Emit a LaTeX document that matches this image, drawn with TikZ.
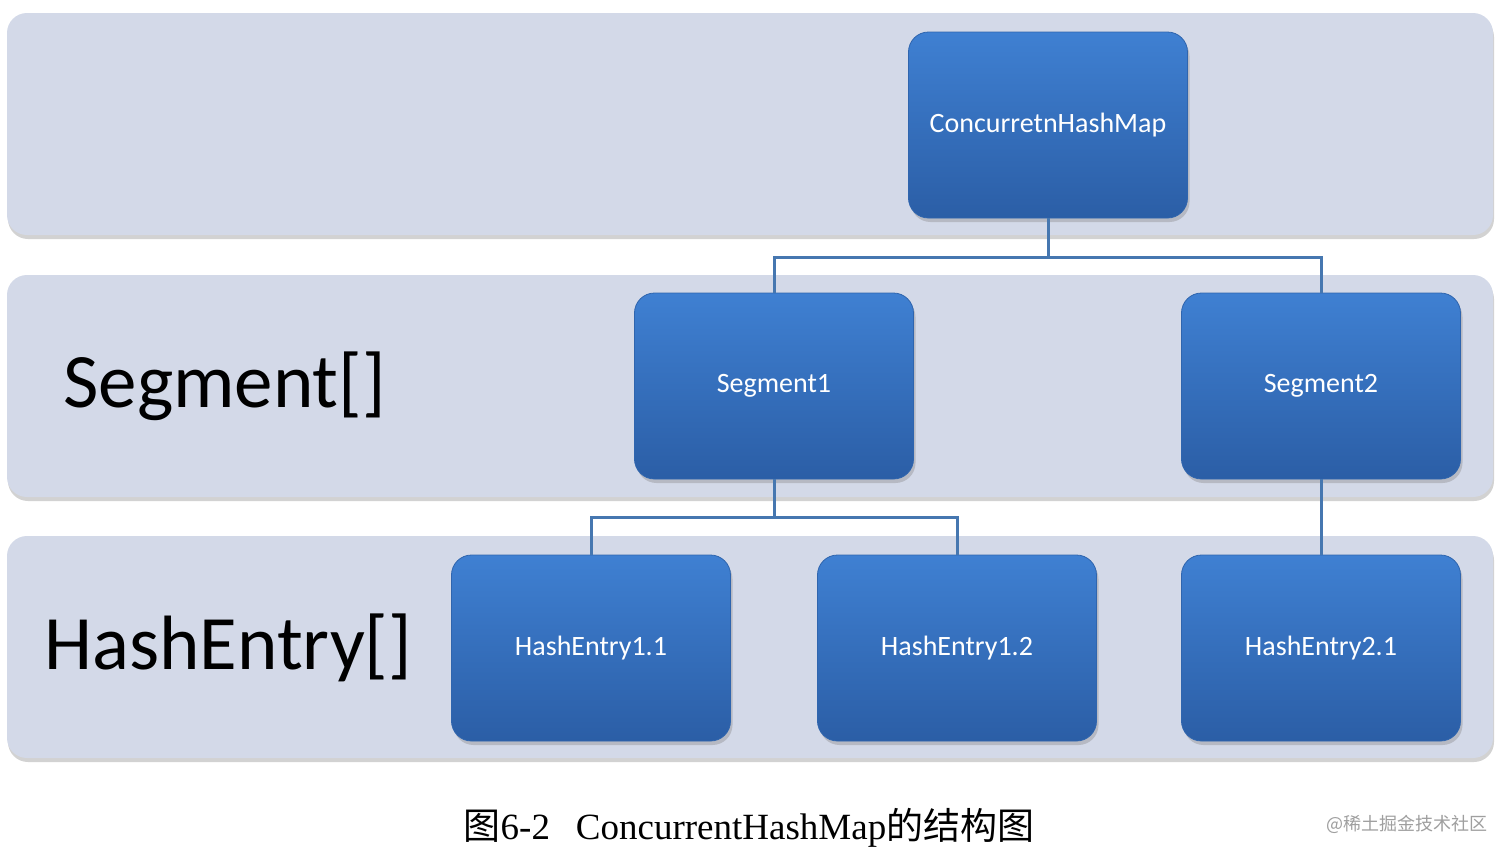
\documentclass[tikz,border=0pt]{standalone}
\usepackage{fontspec}
\setmainfont{Liberation Serif}
\newfontfamily\calib{Carlito}
\newfontfamily\cjk{Noto Sans CJK SC}
\usetikzlibrary{shadows}
\definecolor{bandc}{HTML}{D3D9E8}
\definecolor{boxtop}{HTML}{3F80D2}
\definecolor{boxbot}{HTML}{2B5EA6}
\definecolor{boxline}{HTML}{2F65AE}
\definecolor{linkc}{HTML}{4677B0}
\tikzset{
  band/.style={fill=bandc, rounded corners=10pt, minimum width=743pt, minimum height=111pt,
    drop shadow={shadow xshift=0.5pt, shadow yshift=-2pt, opacity=0.5, fill=gray!70}},
  blk/.style={top color=boxtop, bottom color=boxbot, draw=boxline, line width=0.4pt,
    rounded corners=10pt, minimum width=139.5pt, minimum height=93pt,
    text=white, font=\calib\fontsize{14}{16}\selectfont,
    drop shadow={shadow xshift=1pt, shadow yshift=-2pt, opacity=0.35}},
  bandlabel/.style={font=\calib\fontsize{38.5}{44}\selectfont, text=black, inner sep=0pt},
  conn/.style={draw=linkc, line width=1.5pt}
}
\begin{document}
\begin{tikzpicture}[x=0.5pt,y=-0.5pt]
\useasboundingbox[fill=white] (0,0) rectangle (1512,858);
% bands
\node[band] (band1) at (750,124) {};
\node[band] (band2) at (750,386) {};
\node[band] (band3) at (750,647) {};
% band labels
\node[bandlabel, anchor=west] (lseg) at (63,386) {Segment[]};
\node[bandlabel, anchor=west] (lhe) at (44,648) {HashEntry[]};
% boxes
\node[blk] (chm) at (1048,125) {ConcurretnHashMap};
\node[blk] (seg1) at (774,386) {Segment1};
\node[blk] (seg2) at (1321,386) {Segment2};
\node[blk] (he11) at (591,648) {HashEntry1.1};
\node[blk] (he12) at (957,648) {HashEntry1.2};
\node[blk] (he21) at (1321,648) {HashEntry2.1};
% connectors
\draw[conn] (chm.south) -- ++(0,39) -| (seg1.north);
\draw[conn] (chm.south) -- ++(0,39) -| (seg2.north);
\draw[conn] (seg1.south) -- ++(0,38) -| (he11.north);
\draw[conn] (seg1.south) -- ++(0,38) -| (he12.north);
\draw[conn] (seg2.south) -- (he21.north);
% caption
\node[font=\fontsize{18.5}{21}\selectfont, inner sep=0pt] (cap) at (749,828)
  {{\cjk 图}6-2\hspace{13pt}ConcurrentHashMap{\cjk 的结构图}};
\node[font=\cjk\fontsize{9}{11}\selectfont, text=gray!75, anchor=east, inner sep=0pt] (wm) at (1488,824) {@稀土掘金技术社区};
\end{tikzpicture}
\end{document}
